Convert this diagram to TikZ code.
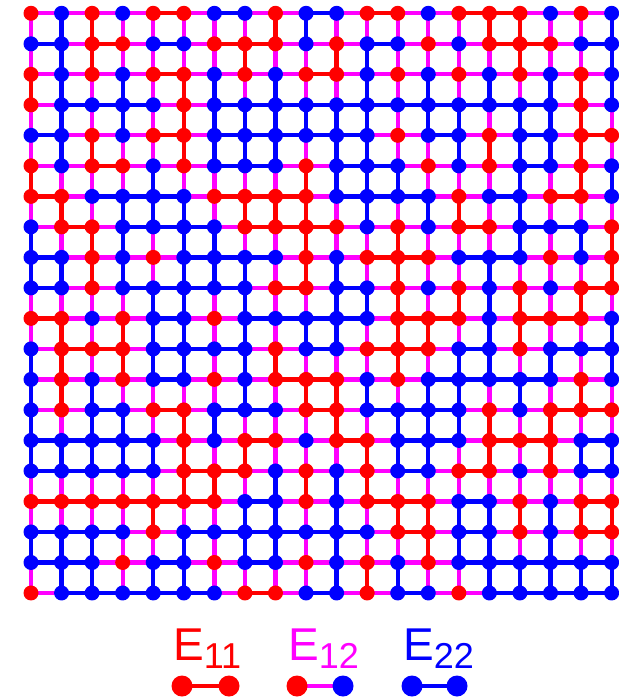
\documentclass[tikz,border=0pt]{standalone}
\usepackage{fontspec}
\setmainfont{Liberation Sans}
\pgfdeclarelayer{background}
\pgfsetlayers{background,main}
\definecolor{mag}{RGB}{255,0,255}
\definecolor{rd}{RGB}{255,0,0}
\definecolor{bl}{RGB}{0,0,255}
\tikzset{
  dot/.style={circle, inner sep=0pt, minimum size=15pt, draw=none},
  bigdot/.style={circle, inner sep=0pt, minimum size=21pt, draw=none},
  v1/.style={fill=rd},
  v2/.style={fill=bl},
  edge/.style={line width=4.3pt},
  e2/.style={draw=rd},
  e3/.style={draw=mag},
  e4/.style={draw=bl},
  lab/.style={anchor=base west, inner sep=0pt},
}
\newcommand{\legtext}[1]{{\fontsize{46}{46}\selectfont E}\raisebox{-8pt}{\fontsize{36}{36}\selectfont #1}}
\begin{document}
\begin{tikzpicture}[x=1pt,y=-1pt]
\useasboundingbox (0,0) rectangle (618,700);
\foreach \row [count=\i from 0] in {
{1,2,1,2,1,1,2,2,1,2,2,1,1,2,1,1,1,2,1,2},
{2,2,1,1,2,2,1,1,1,2,1,2,2,1,2,1,1,1,2,2},
{1,2,1,2,1,1,2,1,2,1,1,2,1,2,1,2,1,2,1,2},
{1,2,2,2,2,1,2,2,2,2,2,2,2,2,2,2,2,2,1,2},
{2,2,1,2,1,1,2,2,2,2,2,2,1,2,2,1,2,2,1,1},
{1,2,1,1,2,1,2,2,2,1,2,2,2,1,2,1,2,2,1,2},
{1,1,2,2,2,2,1,1,1,1,2,2,2,2,1,2,2,1,1,2},
{2,1,1,2,2,2,2,1,1,1,1,2,1,2,1,1,2,2,2,1},
{2,2,1,2,1,2,2,2,2,1,2,1,1,1,2,2,2,1,2,1},
{2,2,1,2,2,2,2,2,1,1,2,2,1,2,1,2,1,2,1,1},
{1,1,2,1,2,2,1,2,2,2,2,2,1,1,1,2,1,1,1,2},
{2,1,1,1,2,2,2,2,1,2,2,1,1,1,2,2,1,2,2,2},
{2,1,2,1,2,2,1,2,1,1,1,2,1,2,2,2,2,2,1,2},
{2,1,2,2,1,1,2,2,2,1,1,2,2,2,2,1,2,1,1,1},
{2,2,2,2,2,1,2,1,1,2,1,1,2,2,2,1,1,1,2,2},
{2,2,2,2,2,1,1,1,2,1,2,1,2,2,1,1,2,1,2,2},
{1,1,1,1,1,1,1,2,2,1,2,1,1,1,2,2,1,2,1,1},
{2,2,2,2,1,2,2,2,2,2,2,2,1,1,2,2,1,2,1,1},
{2,2,2,1,2,2,1,2,2,1,2,1,2,1,2,2,2,2,2,2},
{1,2,2,2,2,2,2,1,1,2,2,1,2,2,1,2,2,2,2,2}}{
  \foreach \c [count=\j from 0] in \row {
    \node[dot, v\c] (n-\i-\j) at ({31+30.56*\j},{13.3+30.51*\i}) {};
    \expandafter\xdef\csname c-\i-\j\endcsname{\c}
  }
}
\begin{pgfonlayer}{background}
\foreach \i in {0,...,19}{
  \foreach \j in {0,...,18}{
    \pgfmathtruncatemacro\k{\j+1}
    \pgfmathtruncatemacro\s{\csname c-\i-\j\endcsname+\csname c-\i-\k\endcsname}
    \draw[edge, e\s] (n-\i-\j.center) -- (n-\i-\k.center);
    \pgfmathtruncatemacro\t{\csname c-\j-\i\endcsname+\csname c-\k-\i\endcsname}
    \draw[edge, e\t] (n-\j-\i.center) -- (n-\k-\i.center);
  }
}
\end{pgfonlayer}
% legend
\node[lab, text=rd] (t11) at (173,660) {\legtext{11}};
\node[lab, text=mag] (t12) at (288,660) {\legtext{12}};
\node[lab, text=bl] (t22) at (403,660) {\legtext{22}};
\node[bigdot, v1] (a1) at (182,686) {};
\node[bigdot, v1] (a2) at (229,686) {};
\node[bigdot, v1] (b1) at (297,686) {};
\node[bigdot, v2] (b2) at (343,686) {};
\node[bigdot, v2] (c1) at (412,686) {};
\node[bigdot, v2] (c2) at (457,686) {};
\begin{pgfonlayer}{background}
\draw[edge, e2] (a1.center) -- (a2.center);
\draw[edge, e3] (b1.center) -- (b2.center);
\draw[edge, e4] (c1.center) -- (c2.center);
\end{pgfonlayer}
\end{tikzpicture}
\end{document}
